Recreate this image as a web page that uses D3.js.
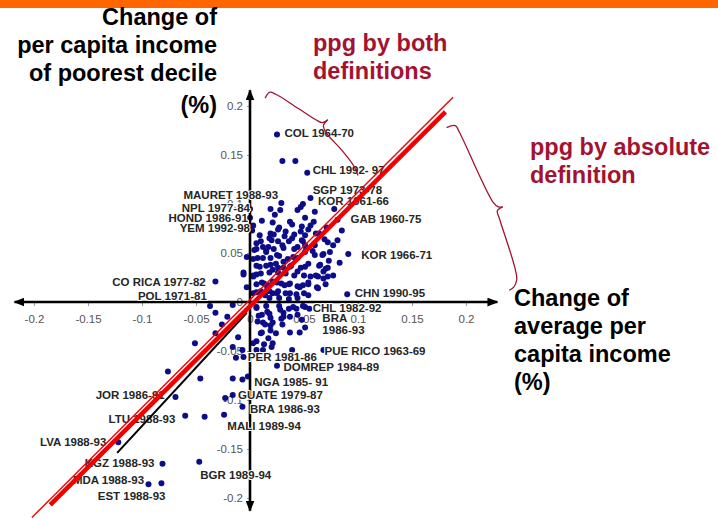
<!DOCTYPE html>
<html>
<head>
<meta charset="utf-8">
<script src="https://cdn.jsdelivr.net/npm/d3@7"></script>
<style>
  body { margin: 0; background: #fff; }
  svg { display: block; font-family: "Liberation Sans", Arial, sans-serif; }
</style>
</head>
<body>
<div id="chart"></div>
<script>
// growth spells: [change of mean income, change of poorest decile income]
const spellsUpper = [
  [0.025, 0.171], [0.030, 0.144], [0.042, 0.144], [0.053, 0.132], [0.056, 0.106],
  [0.049, 0.100], [0.047, 0.097], [0.044, 0.094], [0.029, 0.101], [0.019, 0.095],
  [0.028, 0.094], [0.000, 0.095], [0.060, 0.092], [0.078, 0.095], [0.011, 0.083],
  [0.023, 0.089], [0.000, 0.086], [0.003, 0.078], [0.027, 0.076], [0.037, 0.082],
  [0.051, 0.086], [0.059, 0.082], [0.071, 0.076], [0.081, 0.084], [0.085, 0.073],
  [0.032, 0.067], [0.022, 0.069], [0.048, 0.077], [0.056, 0.078], [0.064, 0.070],
  [0.051, 0.068], [0.039, 0.079], [0.021, 0.081], [0.006, 0.060], [0.012, 0.056],
  [0.020, 0.063], [0.039, 0.065], [0.044, 0.056], [0.048, 0.063], [0.060, 0.058],
  [0.051, 0.051], [0.025, 0.048], [0.015, 0.051], [0.007, 0.045], [0.004, 0.053],
  [0.019, 0.038], [0.026, 0.035], [0.037, 0.036], [0.044, 0.031], [0.051, 0.036],
  [0.056, 0.026], [0.067, 0.048], [0.077, 0.058], [0.068, 0.031], [0.072, 0.026],
  [0.091, 0.049], [-0.006, 0.028], [0.006, 0.028], [0.011, 0.020], [0.017, 0.017],
  [0.025, 0.020], [0.032, 0.017], [0.037, 0.009], [0.049, 0.017], [0.062, 0.015],
  [0.054, 0.007], [0.021, 0.009], [0.014, 0.007], [0.006, 0.010], [0.090, 0.008],
  [-0.032, 0.021], [0.072, 0.061], [0.081, 0.063], [0.074, 0.051], [0.060, 0.048],
  [0.065, 0.038], [0.072, 0.035], [0.083, 0.040], [0.063, 0.026], [0.054, 0.020],
  [0.046, 0.015], [0.037, 0.019], [0.021, 0.033], [0.009, 0.036], [0.003, 0.026],
  [0.016, 0.015], [0.025, 0.009], [0.044, 0.004], [0.030, 0.058], [0.051, 0.058],
  [0.040, 0.046], [0.031, 0.041], [0.017, 0.056], [-0.003, 0.046], [-0.003, 0.015],
  [0.009, 0.068], [0.019, 0.070], [0.002, 0.073]
];
const spellsCore = [
  [0.026, 0.074], [0.033, 0.072], [0.041, 0.069], [0.047, 0.072], [0.054, 0.074],
  [0.061, 0.070], [0.018, 0.065], [0.010, 0.062], [0.026, 0.062], [0.036, 0.062],
  [0.049, 0.062], [0.069, 0.064], [0.006, 0.054], [0.015, 0.052], [0.022, 0.054],
  [0.031, 0.055], [0.041, 0.054], [0.052, 0.054], [0.058, 0.052], [0.003, 0.044],
  [0.012, 0.045], [0.019, 0.045], [0.027, 0.047], [0.035, 0.044], [0.044, 0.045],
  [0.068, 0.049], [0.073, 0.042], [-0.006, 0.030], [0.006, 0.037], [0.015, 0.037],
  [0.024, 0.039], [0.031, 0.035], [0.038, 0.037], [0.047, 0.035], [0.054, 0.039],
  [0.064, 0.037], [0.070, 0.034], [0.003, 0.027], [0.010, 0.029], [0.018, 0.030],
  [0.026, 0.030], [0.033, 0.029], [0.041, 0.027], [0.050, 0.027], [0.061, 0.027],
  [0.068, 0.024], [0.077, 0.027], [0.006, 0.018], [0.013, 0.019], [0.021, 0.021],
  [0.029, 0.019], [0.036, 0.018], [0.044, 0.016], [0.054, 0.018], [0.063, 0.014],
  [0.070, 0.018], [0.003, 0.009], [0.010, 0.011], [0.018, 0.011], [0.026, 0.011],
  [0.033, 0.009], [0.043, 0.008], [0.050, 0.009], [0.027, 0.004], [0.018, 0.004],
  [0.036, 0.003], [0.006, -0.006], [0.015, -0.004], [0.027, -0.004], [0.036, -0.007],
  [0.008, -0.014], [0.018, -0.012], [0.012, -0.021], [0.019, -0.024], [0.010, -0.032],
  [0.017, -0.037], [0.024, -0.032], [0.006, -0.040], [0.013, -0.043], [0.021, -0.042],
  [0.031, -0.011], [0.043, -0.007], [0.049, -0.004], [0.055, -0.007], [0.029, -0.017]
];
const spellsLower = [
  [-0.037, -0.004], [-0.016, -0.003], [-0.032, -0.011], [-0.021, -0.015], [-0.026, -0.023],
  [-0.032, -0.032], [-0.051, -0.042], [-0.011, -0.036], [-0.016, -0.046], [-0.007, -0.049],
  [-0.006, -0.056], [-0.013, -0.057], [0.006, -0.005], [0.011, -0.013], [0.019, -0.016],
  [0.014, -0.023], [0.011, -0.031], [0.019, -0.029], [0.003, -0.042], [0.006, -0.049],
  [0.012, -0.049], [0.020, -0.046], [0.028, -0.008], [0.031, -0.015], [0.030, -0.023],
  [0.040, -0.005], [0.044, -0.013], [0.051, -0.005], [0.051, -0.026], [0.046, -0.031],
  [0.037, -0.031], [0.039, -0.049], [0.068, -0.049], [0.025, -0.065], [0.016, -0.010],
  [0.021, -0.021], [0.007, -0.020], [0.037, -0.015], [0.048, -0.018], [-0.016, -0.078],
  [-0.007, -0.079], [-0.002, -0.076], [-0.076, -0.071], [-0.046, -0.078], [-0.069, -0.097],
  [-0.023, -0.098], [-0.016, -0.095], [-0.007, -0.107], [-0.060, -0.116], [-0.042, -0.117],
  [-0.024, -0.115], [-0.122, -0.143], [-0.081, -0.165], [-0.047, -0.163], [-0.094, -0.186],
  [-0.082, -0.185]
];

// country labels: [text, x, y] (text written to the right / to the left of the anchor)
const labelsRight = [
  ["COL 1964-70", 0.032, 0.168], ["CHL 1992- 97", 0.058, 0.131], ["SGP 1973-78", 0.058, 0.110],
  ["KOR 1961-66", 0.063, 0.099], ["GAB 1960-75", 0.093, 0.081], ["KOR 1966-71", 0.103, 0.044],
  ["CHN 1990-95", 0.097, 0.005], ["CHL 1982-92", 0.058, -0.010], ["BRA", 0.067, -0.020],
  ["1986-93", 0.067, -0.033], ["PUE RICO 1963-69", 0.069, -0.054], ["PER 1981-86", -0.002, -0.060],
  ["DOMREP 1984-89", 0.031, -0.070], ["NGA 1985- 91", 0.004, -0.086], ["GUATE 1979-87", -0.011, -0.099],
  ["BRA 1986-93", 0.000, -0.113], ["MALI 1989-94", -0.021, -0.131], ["BGR 1989-94", -0.046, -0.181],
  ["LTU 1988-93", -0.131, -0.123], ["KGZ 1988-93", -0.153, -0.168], ["MDA 1988-93", -0.164, -0.186],
  ["EST 1988-93", -0.141, -0.202]
];
const labelsLeft = [
  ["MAURET 1988-93", 0.026, 0.105], ["NPL 1977-84", 0.0, 0.092], ["HOND 1986-91", -0.002, 0.082],
  ["YEM 1992-98", 0.0, 0.071], ["CO RICA 1977-82", -0.041, 0.016], ["POL 1971-81", -0.040, 0.002],
  ["JOR 1986-91", -0.079, -0.099], ["LVA 1988-93", -0.133, -0.147]
];

const xTicks = [-0.2, -0.15, -0.1, -0.05, 0, 0.05, 0.1, 0.15, 0.2];
const yTicks = [-0.2, -0.15, -0.1, -0.05, 0, 0.05, 0.1, 0.15, 0.2];

// fitted lines
const fitThick = [[-0.185, -0.207], [0.181, 0.194]];
const fitThin = [[-0.202, -0.220], [0.188, 0.209]];
const fitBlack = [[-0.123, -0.154], [-0.003, -0.011]];

// curly braces (two halves meeting at the tip)
const brace1a = [[0.014, 0.208], [0.018, 0.214], [0.024, 0.212], [0.044, 0.198], [0.061, 0.186], [0.067, 0.183], [0.072, 0.186]];
const brace1b = [[0.072, 0.186], [0.068, 0.180], [0.071, 0.172], [0.085, 0.155], [0.096, 0.139], [0.100, 0.129]];
const brace2a = [[0.182, 0.178], [0.190, 0.180], [0.194, 0.173], [0.225, 0.102], [0.230, 0.097], [0.234, 0.097]];
const brace2b = [[0.234, 0.097], [0.229, 0.093], [0.231, 0.085], [0.245, 0.036], [0.247, 0.023], [0.244, 0.015], [0.240, 0.012]];

const width = 718, height = 519;
const red = "#a31331";

const svg = d3.select("#chart").append("svg")
  .attr("width", width)
  .attr("height", height);

// bandeau orange en haut
svg.append("rect").attr("x", 0).attr("y", 0).attr("width", width).attr("height", 8).attr("fill", "#ff6600");

const x = d3.scaleLinear().domain([-0.2, 0.2]).range([34, 466]);
const y = d3.scaleLinear().domain([-0.2, 0.2]).range([498, 106]);

// axes (graduations)
const gx = svg.append("g")
  .attr("transform", `translate(0,${y(0)})`)
  .call(d3.axisBottom(x).tickValues(xTicks).tickSize(4).tickPadding(9).tickFormat(d => d));
const gy = svg.append("g")
  .attr("transform", `translate(${x(0)},0)`)
  .call(d3.axisLeft(y).tickValues(yTicks).tickSize(3).tickPadding(4).tickFormat(d => d));
[gx, gy].forEach(g => {
  g.select(".domain").remove();
  g.selectAll(".tick line").attr("stroke", "#999");
  g.selectAll(".tick text").attr("fill", "#555").style("font-size", "11.5px").style("font-family", "Liberation Sans, Arial, sans-serif");
});

// points
const allSpells = spellsUpper.concat(spellsCore, spellsLower);
svg.append("g").selectAll("circle")
  .data(allSpells)
  .enter().append("circle")
  .attr("cx", d => x(d[0]))
  .attr("cy", d => y(d[1]))
  .attr("r", 3)
  .attr("fill", "#0d0d8a");

// flèches des axes
const defs = svg.append("defs");
defs.append("marker")
  .attr("id", "arrow")
  .attr("viewBox", "0 0 10 8")
  .attr("refX", 9).attr("refY", 4)
  .attr("markerWidth", 11).attr("markerHeight", 9)
  .attr("markerUnits", "userSpaceOnUse")
  .attr("orient", "auto-start-reverse")
  .append("path").attr("d", "M0,0 L10,4 L0,8 Z").attr("fill", "#000");

svg.append("line")
  .attr("x1", x(-0.218)).attr("x2", x(0.229))
  .attr("y1", y(0)).attr("y2", y(0))
  .attr("stroke", "#000").attr("stroke-width", 2.6)
  .attr("marker-start", "url(#arrow)").attr("marker-end", "url(#arrow)");
svg.append("line")
  .attr("x1", x(0)).attr("x2", x(0))
  .attr("y1", y(-0.213)).attr("y2", y(0.216))
  .attr("stroke", "#000").attr("stroke-width", 2.6)
  .attr("marker-start", "url(#arrow)").attr("marker-end", "url(#arrow)");

// étiquettes des pays (halo blanc, comme dans l'original)
const lab = svg.append("g")
  .style("font-size", "11.5px").style("font-weight", "bold")
  .attr("fill", "#262626")
  .attr("stroke", "#fff").attr("stroke-width", 2.2)
  .attr("stroke-linejoin", "round")
  .style("paint-order", "stroke");
lab.selectAll(".lr").data(labelsRight).enter().append("text")
  .attr("x", d => x(d[1])).attr("y", d => y(d[2]))
  .text(d => d[0]);
lab.selectAll(".ll").data(labelsLeft).enter().append("text")
  .attr("x", d => x(d[1])).attr("y", d => y(d[2]))
  .attr("text-anchor", "end")
  .text(d => d[0]);

// droites
const line = d3.line().x(d => x(d[0])).y(d => y(d[1]));
svg.append("path").attr("d", line(fitBlack)).attr("stroke", "#000").attr("stroke-width", 2).attr("fill", "none");
svg.append("path").attr("d", line(fitThick)).attr("stroke", "#f00000").attr("stroke-width", 4.5).attr("fill", "none");
svg.append("path").attr("d", line(fitThin)).attr("stroke", "#f00000").attr("stroke-width", 1.4).attr("fill", "none");

// accolades
const curve = d3.line().x(d => x(d[0])).y(d => y(d[1])).curve(d3.curveCatmullRom);
[brace1a, brace1b, brace2a, brace2b].forEach(b => {
  svg.append("path").attr("d", curve(b)).attr("stroke", red).attr("stroke-width", 1.3).attr("fill", "none");
});

// titres
const titles = svg.append("g").style("font-size", "23.5px").style("font-weight", "bold");
const yTitle = ["Change of", "per capita income", "of poorest decile"];
yTitle.forEach((t, i) => {
  titles.append("text").attr("x", 217).attr("y", 25 + i * 28).attr("text-anchor", "end").text(t);
});
titles.append("text").attr("x", 217).attr("y", 113).attr("text-anchor", "end").text("(%)");

const xTitle = ["Change of", "average per", "capita income", "(%)"];
xTitle.forEach((t, i) => {
  titles.append("text").attr("x", 514).attr("y", 306 + i * 28).text(t);
});

const notes = [["ppg by both", 313, 51], ["definitions", 313, 79], ["ppg by absolute", 530, 155], ["definition", 530, 183]];
notes.forEach(n => {
  titles.append("text").attr("x", n[1]).attr("y", n[2]).attr("fill", red).text(n[0]);
});
</script>
</body>
</html>
